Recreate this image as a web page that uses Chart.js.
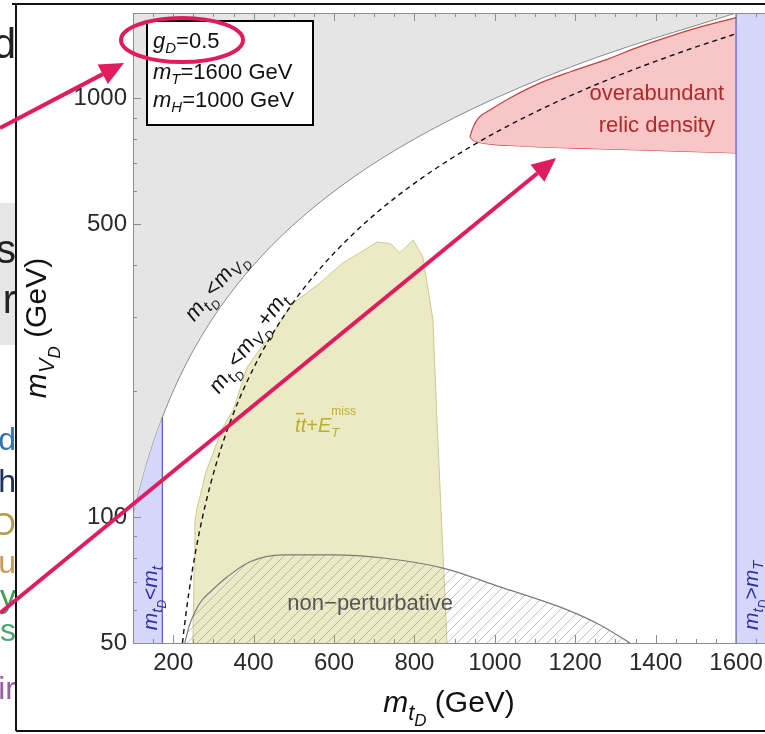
<!DOCTYPE html>
<html>
<head>
<meta charset="utf-8">
<script src="https://cdn.jsdelivr.net/npm/chart.js@4.4.1/dist/chart.umd.min.js"></script>
<style>
  html, body { margin: 0; padding: 0; background: #fff; }
  #wrap { position: relative; width: 765px; height: 734px; }
</style>
</head>
<body>
<div id="wrap"><canvas id="plot" width="765" height="734"></canvas></div>
<script>
const FAM = '"Liberation Sans", Arial, sans-serif';
const F = (size, it) => (it ? 'italic ' : '') + size + 'px ' + FAM;

const xTicks = [200, 400, 600, 800, 1000, 1200, 1400, 1600];
const yTicks = [50, 100, 500, 1000];
const xMin = 100, xMax = 1672;
const yMin = 50, yMax = 1600;
const mTop = 173;   // top quark
const mT = 1600;    // heavy partner

// m_tD = m_VD
const diagMass = [100, 110, 122, 136, 152, 173, 200, 235, 280, 340, 420, 520, 650, 800, 1000, 1250, 1600];

// m_tD = m_VD + m_t
const offTD = [223, 225, 228, 233, 239, 247, 257, 273, 293, 323, 363, 413, 473, 553, 653, 773, 923, 1093, 1273, 1473, 1600];
const offVD = [50, 52, 55, 60, 66, 74, 84, 100, 120, 150, 190, 240, 300, 380, 480, 600, 750, 920, 1100, 1300, 1427];

// ttbar + MET excluded region
const lhcTD = [249, 252, 254, 260, 267, 280, 299, 324, 349, 384, 420, 448, 498, 565, 622, 665, 707, 740, 764, 797, 821, 846, 856, 871, 881];
const lhcVD = [50, 75, 98, 106, 112, 127, 142, 164, 180, 228, 255, 275, 324, 362, 405, 428, 454, 450, 428, 459, 418, 296, 171, 82, 50];

// non-perturbative coupling boundary
const npTD = [229, 240, 254, 270, 292, 334, 391, 473, 598, 722, 871, 1013, 1180, 1262, 1336];
const npVD = [50, 55, 59.3, 63, 66.2, 71.9, 78.2, 81.2, 81.2, 79.8, 75.5, 68.1, 60, 55.2, 50];

// overabundant relic density (upper / lower edge)
const relUpTD = [938, 946, 960, 988, 1040, 1112, 1190, 1279, 1360, 1443, 1520, 1600];
const relUpVD = [810, 854, 900, 938, 1005, 1088, 1160, 1240, 1330, 1415, 1490, 1560];
const relLoTD = [938, 945, 955, 971, 1000, 1050, 1112, 1200, 1361, 1480, 1600];
const relLoVD = [810, 797, 788, 782, 776, 771, 766, 761, 753, 747, 741];

const pts = (xs, ys) => xs.map((x, i) => ({ x: x, y: ys[i] }));

const canvas = document.getElementById('plot');
const ctx0 = canvas.getContext('2d');

function hatchPattern() {
  const c = document.createElement('canvas');
  c.width = 10; c.height = 10;
  const g = c.getContext('2d');
  g.strokeStyle = 'rgba(130,130,130,0.5)';
  g.lineWidth = 1;
  g.beginPath();
  g.moveTo(0, 10); g.lineTo(10, 0);
  g.moveTo(-5, 5); g.lineTo(5, -5);
  g.moveTo(5, 15); g.lineTo(15, 5);
  g.stroke();
  return ctx0.createPattern(c, 'repeat');
}

function line(data, extra) {
  return Object.assign({
    data: data, showLine: true, pointRadius: 0, pointHoverRadius: 0,
    borderWidth: 1, fill: false, cubicInterpolationMode: 'monotone'
  }, extra);
}

// text made of runs: {t, f, dy}
function runs(ctx, parts, x, y, align) {
  let w = 0;
  for (const p of parts) { ctx.font = p.f; w += ctx.measureText(p.t).width; }
  let cx = align === 'center' ? x - w / 2 : x;
  for (const p of parts) {
    ctx.font = p.f;
    ctx.fillText(p.t, cx, y + (p.dy || 0));
    cx += ctx.measureText(p.t).width;
  }
  return w;
}
const mSub = (s, a, b) => {
  const r = [{ t: 'm', f: F(s, 1) }, { t: a, f: F(Math.round(s * 0.72), 1), dy: s * 0.26 }];
  if (b) r.push({ t: b, f: F(Math.round(s * 0.55), 1), dy: s * 0.45 });
  return r;
};

const decor = {
  id: 'decor',
  afterDatasetsDraw(chart) {
    const { ctx, chartArea: a, scales: { x, y } } = chart;
    const X = v => x.getPixelForValue(v), Y = v => y.getPixelForValue(v);
    ctx.save();

    // frame and inward ticks
    ctx.strokeStyle = '#8c8c8c';
    ctx.lineWidth = 1;
    ctx.strokeRect(a.left + 0.5, a.top + 0.5, a.right - a.left, a.bottom - a.top);
    ctx.beginPath();
    for (let v = 150; v < xMax; v += 50) {
      const p = Math.round(X(v)) + 0.5;
      const L = v % 200 === 0 ? 8 : 4;
      ctx.moveTo(p, a.bottom); ctx.lineTo(p, a.bottom - L);
      ctx.moveTo(p, a.top); ctx.lineTo(p, a.top + L);
    }
    [50, 60, 70, 80, 90, 100, 200, 300, 400, 500, 600, 700, 800, 900, 1000].forEach(v => {
      const p = Math.round(Y(v)) + 0.5;
      const L = yTicks.includes(v) ? 8 : 4;
      ctx.moveTo(a.left, p); ctx.lineTo(a.left + L, p);
    });
    ctx.stroke();

    ctx.textBaseline = 'alphabetic';
    ctx.textAlign = 'left';

    // region labels
    ctx.fillStyle = '#b02a2a';
    ctx.font = F(22);
    ctx.textAlign = 'center';
    ctx.fillText('overabundant', X(1403), Y(1036) + 8);
    ctx.fillText('relic density', X(1403), Y(869) + 8);
    ctx.fillStyle = '#555';
    ctx.fillText('non\u2212perturbative', X(690), Y(62.5) + 8);
    ctx.textAlign = 'left';

    // ttbar + MET
    ctx.fillStyle = '#b8b22a';
    const tx = X(558), ty = Y(166) + 7;
    const tp = [
      { t: 't', f: F(20, 1) }, { t: 't', f: F(20, 1) }, { t: '+', f: F(20) },
      { t: 'E', f: F(20, 1) }, { t: 'T', f: F(13, 1), dy: 5 }, { t: 'miss', f: F(12), dy: -17 }
    ];
    // superscript sits above the subscript
    let w = 0;
    tp.forEach((p, i) => { ctx.font = p.f; if (i !== 5) w += ctx.measureText(p.t).width; });
    let cx = tx - w / 2, tsub = 0;
    tp.forEach((p, i) => {
      ctx.font = p.f;
      if (i === 5) { ctx.fillText(p.t, tsub, ty + p.dy); return; }
      if (i === 4) tsub = cx;
      ctx.fillText(p.t, cx, ty + (p.dy || 0));
      if (i === 0) { ctx.fillRect(cx + 1, ty - 19, 8, 1.5); }
      cx += ctx.measureText(p.t).width;
    });

    // rotated boundary labels
    ctx.fillStyle = '#111';
    ctx.save();
    ctx.translate(X(305), Y(355));
    ctx.rotate(-51 * Math.PI / 180);
    runs(ctx, mSub(22, 't', 'D').concat([{ t: '<', f: F(22) }], mSub(22, 'V', 'D')), 0, 6, 'center');
    ctx.restore();
    ctx.save();
    ctx.translate(X(388), Y(260));
    ctx.rotate(-54 * Math.PI / 180);
    runs(ctx, mSub(22, 't', 'D').concat([{ t: '<', f: F(22) }], mSub(22, 'V', 'D'),
      [{ t: '+', f: F(22) }], mSub(22, 't')), 0, 6, 'center');
    ctx.restore();

    // band labels
    ctx.fillStyle = '#2f2fa8';
    ctx.save();
    ctx.translate(X(142) + 7, Y(64));
    ctx.rotate(-Math.PI / 2);
    runs(ctx, mSub(21, 't', 'D').concat([{ t: '<', f: F(21) }], mSub(21, 't')), 0, 0, 'center');
    ctx.restore();
    ctx.save();
    ctx.translate(X(1637) + 7, Y(65));
    ctx.rotate(-Math.PI / 2);
    runs(ctx, mSub(21, 't', 'D').concat([{ t: '>', f: F(21) }], mSub(21, 'T')), 0, 0, 'center');
    ctx.restore();

    ctx.restore();
  },
  afterDraw(chart) {
    const { ctx, chartArea: a } = chart;
    ctx.save();
    ctx.fillStyle = '#111';
    ctx.textBaseline = 'alphabetic';

    // axis titles
    const cxm = (a.left + a.right) / 2;
    runs(ctx, mSub(30, 't', 'D').concat([{ t: ' (GeV)', f: F(30) }]), cxm, 712, 'center');
    ctx.save();
    ctx.translate(46, (a.top + a.bottom) / 2);
    ctx.rotate(-Math.PI / 2);
    runs(ctx, mSub(30, 'V', 'D').concat([{ t: ' (GeV)', f: F(30) }]), 0, 0, 'center');
    ctx.restore();

    // parameter box
    ctx.fillStyle = '#fff';
    ctx.fillRect(147, 21, 166, 104);
    ctx.strokeStyle = '#000';
    ctx.lineWidth = 2;
    ctx.strokeRect(147, 21, 166, 104);
    ctx.fillStyle = '#111';
    runs(ctx, [{ t: 'g', f: F(22, 1) }, { t: 'D', f: F(15, 1), dy: 5 }, { t: '=0.5', f: F(22) }], 153, 48, 'left');
    runs(ctx, [{ t: 'm', f: F(22, 1) }, { t: 'T', f: F(15, 1), dy: 5 }, { t: '=1600 GeV', f: F(22) }], 153, 79, 'left');
    runs(ctx, [{ t: 'm', f: F(22, 1) }, { t: 'H', f: F(15, 1), dy: 5 }, { t: '=1000 GeV', f: F(22) }], 153, 107, 'left');

    // left margin: edge of neighbouring slide
    ctx.save();
    ctx.beginPath(); ctx.rect(0, 0, 16, 734); ctx.clip();
    ctx.fillStyle = '#e6e6e6';
    ctx.fillRect(0, 203, 16, 142);
    ctx.textAlign = 'right';
    [
      ['d', 58, 42, '#222'], ['s', 263, 40, '#222'], ['r', 313, 40, '#222'],
      ['d', 450, 32, '#3572b0'], ['h', 492, 32, '#1d2f5e'], ['O', 535, 32, '#aea043'],
      ['u', 573, 32, '#c79b5c'], ['y', 607, 32, '#3e9e4e'], ['s', 641, 32, '#4aa56c'],
      ['ir', 699, 32, '#9a5ea2']
    ].forEach(r => { ctx.font = F(r[2]); ctx.fillStyle = r[3]; ctx.fillText(r[0], 16, r[1]); });
    ctx.restore();

    // screenshot border
    ctx.strokeStyle = '#111';
    ctx.lineWidth = 2;
    ctx.beginPath();
    ctx.moveTo(12, 4); ctx.lineTo(765, 4);
    ctx.moveTo(16, 4); ctx.lineTo(16, 731);
    ctx.moveTo(16, 731); ctx.lineTo(765, 731);
    ctx.stroke();

    // highlight marks
    const pink = '#e01c5e';
    ctx.strokeStyle = pink; ctx.fillStyle = pink; ctx.lineWidth = 4;
    ctx.beginPath();
    ctx.ellipse(182, 40, 61, 22, 0, 0, Math.PI * 2);
    ctx.stroke();
    const arrow = (x0, y0, x1, y1) => {
      const ang = Math.atan2(y1 - y0, x1 - x0), L = 24, H = 11;
      const bx = x1 - L * Math.cos(ang), by = y1 - L * Math.sin(ang);
      ctx.beginPath(); ctx.moveTo(x0, y0); ctx.lineTo(bx, by); ctx.stroke();
      ctx.beginPath();
      ctx.moveTo(x1, y1);
      ctx.lineTo(bx + H * Math.sin(ang), by - H * Math.cos(ang));
      ctx.lineTo(bx - H * Math.sin(ang), by + H * Math.cos(ang));
      ctx.closePath(); ctx.fill();
    };
    arrow(0, 128, 124, 63);
    arrow(0, 613, 556, 158);
    ctx.restore();
  }
};

const lavender = 'rgba(212,212,250,0.95)';
const noPad = s => { s.paddingLeft = 0; s.paddingRight = 0; s.paddingTop = 0; s.paddingBottom = 0; };

new Chart(canvas, {
  type: 'scatter',
  data: {
    datasets: [
      line(pts(diagMass, diagMass), { fill: 'end', backgroundColor: '#e5e5e5', borderColor: '#8a8a8a', order: 9 }),
      line(pts(lhcTD, lhcVD), { fill: 'start', backgroundColor: '#ece9c5', borderColor: '#cdc98f', cubicInterpolationMode: 'default', tension: 0, order: 8 }),
      line(pts(npTD, npVD), { fill: 'start', backgroundColor: hatchPattern(), borderColor: '#7a7a7a', borderWidth: 1.2, order: 7 }),
      line(pts(relUpTD, relUpVD), { fill: '+1', backgroundColor: '#f8c6c6', borderColor: '#c24040', borderWidth: 1.2, order: 6 }),
      line(pts(relLoTD, relLoVD), { borderColor: '#c24040', borderWidth: 1.2, order: 6 }),
      line(pts(diagMass.filter(m => m <= mTop), diagMass.filter(m => m <= mTop)), { fill: 'start', backgroundColor: lavender, borderWidth: 0, order: 5 }),
      line(pts([mT, xMax], [yMax, yMax]), { fill: 'start', backgroundColor: lavender, borderWidth: 0, order: 5 }),
      line(pts([mTop, mTop], [yMin, mTop]), { borderColor: '#5a5ac4', borderWidth: 1.2, order: 4 }),
      line(pts([mT, mT], [yMin, yMax]), { borderColor: '#5a5ac4', borderWidth: 1.2, order: 4 }),
      line(pts(offTD, offVD), { borderColor: '#111', borderWidth: 1.4, borderDash: [5, 4], order: 3 })
    ]
  },
  options: {
    responsive: false,
    devicePixelRatio: 1,
    animation: false,
    events: [],
    layout: { padding: { top: 13, left: 0, right: 0, bottom: 0 } },
    plugins: { legend: { display: false }, tooltip: { enabled: false } },
    scales: {
      x: {
        type: 'linear', min: xMin, max: xMax,
        grid: { display: false, drawTicks: false }, border: { display: false },
        ticks: { font: { family: FAM, size: 24 }, color: '#2a2a2a', padding: 6, autoSkip: false, maxRotation: 0, callback: v => String(v) },
        afterBuildTicks: s => { s.ticks = xTicks.map(v => ({ value: v })); },
        afterFit: s => { s.height = 91; noPad(s); }
      },
      y: {
        type: 'logarithmic', min: yMin, max: yMax,
        grid: { display: false, drawTicks: false }, border: { display: false },
        ticks: { font: { family: FAM, size: 24 }, color: '#2a2a2a', padding: 6, autoSkip: false, callback: v => String(v) },
        afterBuildTicks: s => { s.ticks = yTicks.map(v => ({ value: v })); },
        afterFit: s => { s.width = 133; noPad(s); }
      }
    }
  },
  plugins: [decor]
});
</script>
</body>
</html>
